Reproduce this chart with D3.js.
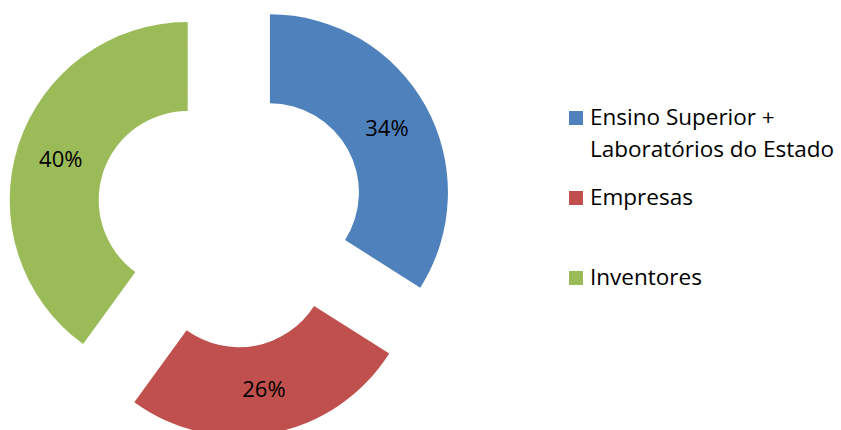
<!DOCTYPE html>
<html>
<head>
<meta charset="utf-8">
<script src="https://cdn.jsdelivr.net/npm/d3@7"></script>
<style>
  html, body { margin: 0; padding: 0; background: #ffffff; }
  svg { display: block; }
  text { font-family: "Open Sans", "Liberation Sans", sans-serif; }
</style>
</head>
<body>
<svg id="chart" width="841" height="430"></svg>
<script>
// Share of applicants by type
const categories = ["Ensino Superior +\nLaboratórios do Estado", "Empresas", "Inventores"];
const values = [34, 26, 40];
const colors = ["#4F81BD", "#C0504D", "#9BBB59"];

const width = 841, height = 430;
const cx = 230.5, cy = 214;          // donut centre
const outerR = 178, innerR = 89;     // 50% hole
const explode = 45;                  // each slice pulled out along its bisector

const svg = d3.select("#chart");

const pie = d3.pie().sort(null).value(d => d)(values);
const arc = d3.arc().innerRadius(innerR).outerRadius(outerR);
const labelArc = d3.arc().innerRadius((innerR + outerR) / 2).outerRadius((innerR + outerR) / 2);
const total = d3.sum(values);

const slices = svg.append("g")
  .attr("transform", `translate(${cx},${cy})`)
  .selectAll("g")
  .data(pie)
  .join("g")
  .attr("transform", d => {
    const mid = (d.startAngle + d.endAngle) / 2;
    return `translate(${Math.sin(mid) * explode},${-Math.cos(mid) * explode})`;
  });

slices.append("path")
  .attr("d", arc)
  .attr("fill", (d, i) => colors[i]);

slices.append("text")
  .attr("transform", d => `translate(${labelArc.centroid(d)})`)
  .attr("text-anchor", "middle")
  .attr("dy", "0.35em")
  .attr("font-size", 22)
  .attr("fill", "#000")
  .text(d => Math.round(d.data / total * 100) + "%");

// Legend
const legendX = 569;
const legendRows = [125, 205, 285];   // baseline of each entry's first line
const lineGap = 32;

const legend = svg.append("g")
  .selectAll("g")
  .data(categories)
  .join("g");

legend.append("rect")
  .attr("x", legendX)
  .attr("y", (d, i) => legendRows[i] - 14)
  .attr("width", 14)
  .attr("height", 14)
  .attr("fill", (d, i) => colors[i]);

legend.append("text")
  .attr("x", legendX + 21)
  .attr("y", (d, i) => legendRows[i])
  .attr("font-size", 22.5)
  .attr("fill", "#000")
  .each(function (d) {
    const t = d3.select(this);
    d.split("\n").forEach((line, j) => {
      t.append("tspan")
        .attr("x", legendX + 21)
        .attr("dy", j === 0 ? 0 : lineGap)
        .text(line);
    });
  });
</script>
</body>
</html>
